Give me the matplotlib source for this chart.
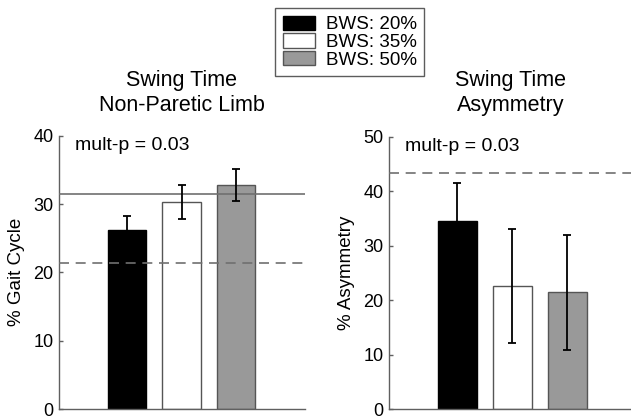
import matplotlib
matplotlib.use("Agg")
import matplotlib.pyplot as plt
from matplotlib.patches import Patch

plt.rcParams['font.family'] = ['Liberation Sans', 'DejaVu Sans']

# ---- data ----
conditions = ["BWS: 20%", "BWS: 35%", "BWS: 50%"]
bar_colors = ["#000000", "#ffffff", "#999999"]

np_values = [26.2, 30.3, 32.8]        # Swing time, non-paretic limb (% gait cycle)
np_errors = [2.0, 2.55, 2.3]
np_solid_ref = 31.4
np_dashed_ref = 21.4

asym_values = [34.5, 22.6, 21.4]      # Swing time asymmetry (%)
asym_errors = [7.0, 10.4, 10.5]
asym_dashed_ref = 43.4

left_title = "Swing Time\nNon-Paretic Limb"
right_title = "Swing Time\nAsymmetry"
left_ylabel = "% Gait Cycle"
right_ylabel = "% Asymmetry"
stat_text = "mult-p = 0.03"
left_yticks = [0, 10, 20, 30, 40]
right_yticks = [0, 10, 20, 30, 40, 50]

W, H = 631, 420
fig = plt.figure(figsize=(W / 100, H / 100), dpi=100)

axis_gray = "#606060"
line_gray = "#707070"


def make_panel(rect, values, errors, yticks, ylim, xlim, title, ylabel, label_x):
    ax = fig.add_axes(rect)
    xs = [1, 2, 3]
    for x, v, c in zip(xs, values, bar_colors):
        ec = "#000000" if c == "#000000" else "#555555"
        ax.bar(x, v, width=0.71, color=c, edgecolor=ec, linewidth=1.0, zorder=2)
    ax.errorbar(xs, values, yerr=errors, fmt='none', ecolor='#000000',
                elinewidth=1.3, capsize=3, capthick=1.3, zorder=4)
    ax.set_xlim(*xlim)
    ax.set_ylim(*ylim)
    ax.set_yticks(yticks)
    ax.set_xticks([])
    for s in ("top", "right"):
        ax.spines[s].set_visible(False)
    for s in ("left", "bottom"):
        ax.spines[s].set_color(axis_gray)
        ax.spines[s].set_linewidth(1.0)
    ax.tick_params(axis='y', direction='in', length=3, width=1.0,
                   color=axis_gray, labelsize=13, pad=4)
    ax.set_ylabel(ylabel, fontsize=13.5)
    ax.yaxis.set_label_coords(label_x, 0.5)
    ax.text(0.067, 0.963, stat_text, transform=ax.transAxes, fontsize=14,
            ha='left', va='center')
    cx = rect[0] + rect[2] / 2
    fig.text(cx, 1 - 93 / H, title, ha='center', va='center', fontsize=15.5,
             linespacing=1.25)
    return ax


ax1 = make_panel([59 / W, 1 - 409 / H, 246 / W, 273.3 / H], np_values, np_errors,
                 left_yticks, (0, 40), (-0.248, 4.266), left_title, left_ylabel,
                 -0.138)
ax1.axhline(np_solid_ref, color=line_gray, linewidth=1.2, zorder=3)
ax1.axhline(np_dashed_ref, color=line_gray, linewidth=1.2,
            linestyle=(0, (6, 4)), zorder=3)

ax2 = make_panel([389 / W, 1 - 409 / H, 243 / W, 272.3 / H], asym_values, asym_errors,
                 right_yticks, (0, 50), (-0.242, 4.18), right_title, right_ylabel,
                 -0.14)
ax2.axhline(asym_dashed_ref, color=line_gray, linewidth=1.2,
            linestyle=(0, (6, 4)), zorder=3)

handles = []
for c in bar_colors:
    ec = "#000000" if c == "#000000" else "#555555"
    handles.append(Patch(facecolor=c, edgecolor=ec, linewidth=1.0))
leg = fig.legend(handles, conditions, loc='upper left',
                 bbox_to_anchor=(275 / W, 1 - 8 / H), fontsize=13.5,
                 frameon=True, fancybox=False, borderpad=0.4,
                 handlelength=1.75, handleheight=0.8, handletextpad=0.55,
                 labelspacing=0.0, borderaxespad=0)
leg.get_frame().set_edgecolor("#333333")
leg.get_frame().set_linewidth(1.0)

fig.savefig("out.png", dpi=100)
